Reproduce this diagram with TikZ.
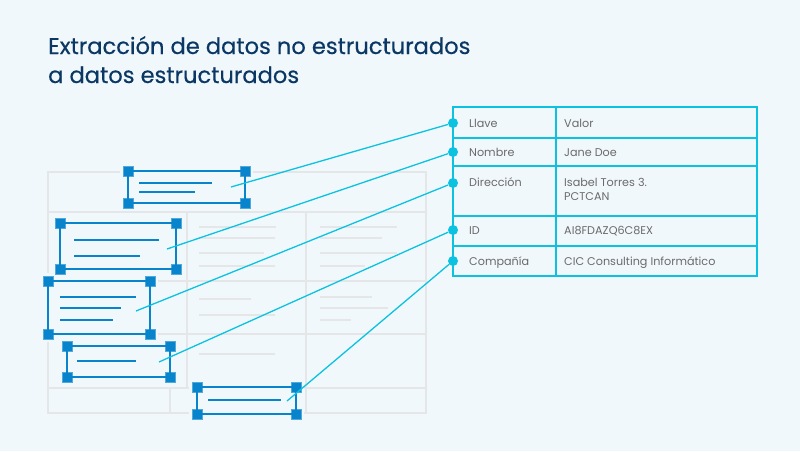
\documentclass[tikz,border=0pt]{standalone}
\usepackage{fontspec}
\setmainfont{Poppins}
\newfontfamily\ttlfont{Poppins}[FakeBold=0.35]
\definecolor{bg}{HTML}{F1F8FC}
\definecolor{titlec}{HTML}{0A3764}
\definecolor{gridc}{HTML}{E4E6E8}
\definecolor{boxc}{HTML}{0784CC}
\definecolor{cyanc}{HTML}{0BC3E0}
\definecolor{txtc}{HTML}{6A6A6A}
\tikzset{
  gridline/.style={draw=gridc, line width=2pt},
  ghost/.style={draw=gridc, line width=2pt},
  frame/.style={draw=boxc, line width=1.8pt},
  inner/.style={draw=boxc, line width=1.8pt},
  halo/.style={fill=bg, draw=none},
  handle/.style={rectangle, minimum size=10pt, inner sep=0pt, fill=boxc, draw=boxc!70!white, line width=0.6pt},
  link/.style={draw=cyanc, line width=1.3pt},
  dot/.style={circle, minimum size=10pt, inner sep=0pt, fill=cyanc},
  tbl/.style={draw=cyanc, line width=2pt},
  cell/.style={anchor=base west, inner sep=0pt, text=txtc, font=\fontsize{11.2}{14}\selectfont},
  ttl/.style={anchor=base west, inner sep=0pt, text=titlec, font=\ttlfont\fontsize{22.6}{27}\selectfont}
}
\begin{document}
\begin{tikzpicture}[x=1pt,y=-1pt]
\useasboundingbox[fill=bg] (0,0) rectangle (800,451);

% title
\node[ttl] (t1) at (48,54) {Extracción de datos no estructurados};
\node[ttl] (t2) at (48,83) {a datos estructurados};

% background grid (document)
\draw[gridline] (48,172) rectangle (426,413);
\draw[gridline] (48,212) -- (426,212);
\draw[gridline] (48,281) -- (426,281);
\draw[gridline] (48,334) -- (426,334);
\draw[gridline] (48,388) -- (426,388);
\draw[gridline] (187,212) -- (187,388);
\draw[gridline] (306,212) -- (306,413);
\draw[gridline] (170,388) -- (170,413);
% placeholder text lines
\draw[ghost] (199,227) -- (276,227);
\draw[ghost] (199,238) -- (275,238);
\draw[ghost] (199,253) -- (264,253);
\draw[ghost] (199,266) -- (275,266);
\draw[ghost] (320,227) -- (397,227);
\draw[ghost] (320,238) -- (382,238);
\draw[ghost] (320,253) -- (397,253);
\draw[ghost] (320,266) -- (365,266);
\draw[ghost] (199,299) -- (251,299);
\draw[ghost] (199,315) -- (275,315);
\draw[ghost] (320,297) -- (372,297);
\draw[ghost] (320,308) -- (388,308);
\draw[ghost] (320,320) -- (351,320);
\draw[ghost] (199,354) -- (275,354);

% halos behind selection boxes
\fill[halo] (120,163) rectangle (253,211);
\fill[halo] (52,215) rectangle (184,277);
\fill[halo] (40,273) rectangle (158,342);
\fill[halo] (59,338) rectangle (178,385);
\fill[halo] (189,379) rectangle (304,422);

% selection box 1
\node[handle] (a1) at (128,171) {};
\node[handle] (a2) at (245,171) {};
\node[handle] (a3) at (245,203) {};
\node[handle] (a4) at (128,203) {};
\draw[frame] (a1.center) -- (a2.center) -- (a3.center) -- (a4.center) -- cycle;
\draw[inner] (139,183) -- (212,183);
\draw[inner] (139,192) -- (195,192);
\coordinate (s1) at (231,187);

% selection box 2
\node[handle] (b1) at (60,223) {};
\node[handle] (b2) at (176,223) {};
\node[handle] (b3) at (176,269) {};
\node[handle] (b4) at (60,269) {};
\draw[frame] (b1.center) -- (b2.center) -- (b3.center) -- (b4.center) -- cycle;
\draw[inner] (74,240) -- (159,240);
\draw[inner] (74,256) -- (140,256);
\coordinate (s2) at (167,249);

% selection box 3
\node[handle] (c1) at (48,281) {};
\node[handle] (c2) at (150,281) {};
\node[handle] (c3) at (150,334) {};
\node[handle] (c4) at (48,334) {};
\draw[frame] (c1.center) -- (c2.center) -- (c3.center) -- (c4.center) -- cycle;
\draw[inner] (60,297) -- (136,297);
\draw[inner] (60,308) -- (121,308);
\draw[inner] (60,320) -- (113,320);
\coordinate (s3) at (136,311);

% selection box 4
\node[handle] (e1) at (67,346) {};
\node[handle] (e2) at (170,346) {};
\node[handle] (e3) at (170,377) {};
\node[handle] (e4) at (67,377) {};
\draw[frame] (e1.center) -- (e2.center) -- (e3.center) -- (e4.center) -- cycle;
\draw[inner] (77,361) -- (136,361);
\coordinate (s4) at (159,362);

% selection box 5
\node[handle] (f1) at (197,387) {};
\node[handle] (f2) at (296,387) {};
\node[handle] (f3) at (296,414) {};
\node[handle] (f4) at (197,414) {};
\draw[frame] (f1.center) -- (f2.center) -- (f3.center) -- (f4.center) -- cycle;
\draw[inner] (208,400) -- (281,400);
\coordinate (s5) at (287,401);

% table
\draw[tbl] (453,107) rectangle (757,276);
\draw[tbl] (453,138) -- (757,138);
\draw[tbl] (453,166) -- (757,166);
\draw[tbl] (453,216) -- (757,216);
\draw[tbl] (453,246) -- (757,246);
\draw[tbl] (556,107) -- (556,276);

\node[cell] (k1) at (469,127) {Llave};
\node[cell] (v1) at (564,127) {Valor};
\node[cell] (k2) at (469,156) {Nombre};
\node[cell] (v2) at (564,156) {Jane Doe};
\node[cell] (k3) at (469,186) {Dirección};
\node[cell] (v3) at (564,186) {Isabel Torres 3.};
\node[cell] (v3b) at (564,200) {PCTCAN};
\node[cell] (k4) at (469,234) {ID};
\node[cell] (v4) at (564,234) {AI8FDAZQ6C8EX};
\node[cell] (k5) at (469,265) {Compañía};
\node[cell] (v5) at (564,265) {CIC Consulting Informático};

% connectors
\node[dot] (d1) at (453,123) {};
\node[dot] (d2) at (453,152) {};
\node[dot] (d3) at (453,183) {};
\node[dot] (d4) at (453,230) {};
\node[dot] (d5) at (453,261) {};
\draw[link] (s1) -- (d1);
\draw[link] (s2) -- (d2);
\draw[link] (s3) -- (d3);
\draw[link] (s4) -- (d4);
\draw[link] (s5) -- (d5);
\end{tikzpicture}
\end{document}
